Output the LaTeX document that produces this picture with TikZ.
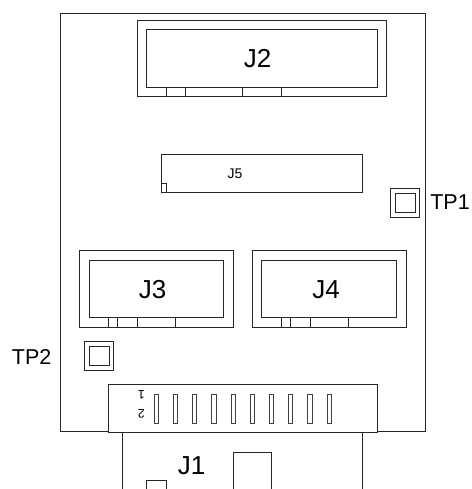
\documentclass[tikz,border=0pt]{standalone}
\usepackage{fontspec}
\setmainfont{Liberation Sans}
\tikzset{
  ln/.style={draw=black!85,line width=0.9pt},
  lbl/.style={inner sep=0pt,font=\fontsize{#1}{#1}\selectfont,text=black},
  lbl/.default=26,
  slot/.style={ln,draw=black!75}
}
\begin{document}
\begin{tikzpicture}[x=1pt,y=-1pt]
\useasboundingbox (0,0) rectangle (471,489);
% board
\draw[ln] (60.6,13.5) rectangle (425,431.7);
% J2
\draw[ln] (137.3,20) rectangle (386.7,96.7);
\draw[ln] (146.7,29.3) rectangle (377.3,87.3);
\foreach \x in {166,185.3,242.7,281.3} \draw[ln] (\x,87.3) -- (\x,96.7);
\node[lbl] (j2) at (257.7,59) {J2};
% J5
\draw[ln] (161,154.3) rectangle (362.7,192.7);
\draw[ln] (161,183.3) rectangle (166.3,192.7);
\node[lbl=14] (j5) at (235,173.7) {J5};
% TP1
\draw[ln] (390.7,188.7) rectangle (419.2,217.3);
\draw[ln] (395.5,193.5) rectangle (415,212.5);
\node[lbl=21.5] (tp1) at (450,202) {TP1};
% J3
\draw[ln] (79.3,250.7) rectangle (233.3,327.3);
\draw[ln] (89,260) rectangle (223.7,317.7);
\foreach \x in {108.3,117.7,137,175.3} \draw[ln] (\x,317.7) -- (\x,327.3);
\node[lbl] (j3) at (152.7,289.3) {J3};
% J4
\draw[ln] (252.3,250.7) rectangle (406,327.3);
\draw[ln] (261.7,260) rectangle (396.3,317.7);
\foreach \x in {281,290.7,310,348.3} \draw[ln] (\x,317.7) -- (\x,327.3);
\node[lbl] (j4) at (326,289.3) {J4};
% TP2
\draw[ln] (84.7,341.7) rectangle (113.7,370.7);
\draw[ln] (89.3,346.7) rectangle (109,365.7);
\node[lbl=21.5] (tp2) at (31.7,356.7) {TP2};
% J1 header
\draw[ln,fill=white] (108.3,384.7) rectangle (377.3,432);
\foreach \i in {0,...,9} \draw[slot] ({154.3+19.2*\i},394.3) rectangle ({158.5+19.2*\i},423.3);
\node[lbl=12.5,rotate=180] (pin1) at (141.5,395) {1};
\node[lbl=12.5,rotate=180] (pin2) at (141.5,414) {2};
% J1 body
\draw[ln] (122.7,432) -- (122.7,489);
\draw[ln] (362.7,432) -- (362.7,489);
\draw[ln,line width=1.4pt] (108.3,432.3) -- (122.7,432.3);
\draw[ln,line width=1.4pt] (362.7,432.3) -- (377.3,432.3);
\draw[ln] (146.7,489) -- (146.7,480.7) -- (166,480.7) -- (166,489);
\draw[ln] (233.3,489) -- (233.3,452) -- (271.7,452) -- (271.7,489);
\node[lbl] (j1) at (191.7,466) {J1};
\end{tikzpicture}
\end{document}
